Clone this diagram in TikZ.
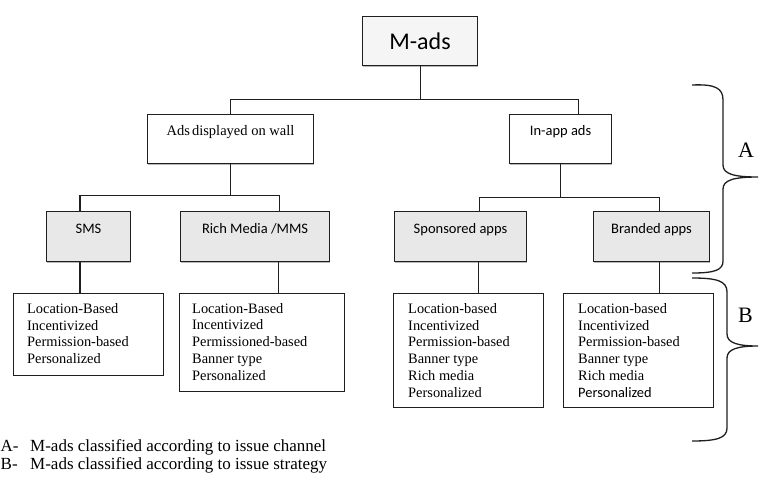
\documentclass[tikz,border=0pt]{standalone}
\usepackage{fontspec}
\setmainfont{Liberation Serif}
\newfontfamily\calibrifont{Carlito}
\usetikzlibrary{shadows}
\begin{document}
\begin{tikzpicture}[x=1pt,y=-1pt,
  ln/.style={line width=1.1pt, draw=black!88},
  conn/.style={line width=1.1pt, draw=black!88},
  boxbase/.style={ln, rectangle, inner sep=0pt, anchor=north west},
  shad/.style={drop shadow={shadow xshift=0.8pt, shadow yshift=-1.8pt, fill=black!28, opacity=1}},
  topbox/.style={boxbase, shad, fill=black!4, minimum height=49pt},
  midbox/.style={boxbase, shad, fill=white, minimum height=49pt},
  lowbox/.style={boxbase, shad, fill=black!9, minimum height=50pt},
  listbox/.style={boxbase, fill=white},
  sanshead/.style={anchor=base, inner sep=0pt, font=\calibrifont\fontsize{14.5}{17}\selectfont},
  serifhead/.style={anchor=base, inner sep=0pt, font=\fontsize{14.5}{17}\selectfont},
  listtext/.style={anchor=north west, inner sep=0pt, align=left, font=\fontsize{14.4}{16.8}\selectfont},
  legtext/.style={anchor=base west, inner sep=0pt, font=\fontsize{17}{19}\selectfont},
  bracelabel/.style={anchor=base west, inner sep=0pt, font=\fontsize{22}{24}\selectfont},
  bracepath/.style={line width=1.3pt, draw=black!88}
]
\clip (0,0) rectangle (760,480);
\fill[white] (0,0) rectangle (760,480);

% level 1
\node[topbox, minimum width=115pt] (mads) at (362,16) {\calibrifont\fontsize{24}{28}\selectfont M-ads};

% level 2
\node[midbox, minimum width=166pt] (ads) at (147,114) {};
\node[serifhead] (adst) at ([yshift=-21pt]ads.north) {Ads\hspace{2pt}displayed on wall};
\node[midbox, minimum width=102pt] (inapp) at (509,114) {};
\node[sanshead] (inappt) at ([yshift=-21pt]inapp.north) {In-app ads};

% level 3
\node[lowbox, minimum width=84pt] (sms) at (46,211) {};
\node[sanshead] (smst) at ([yshift=-22pt]sms.north) {SMS};
\node[lowbox, minimum width=149pt] (rich) at (180,211) {};
\node[sanshead] (richt) at ([yshift=-22pt]rich.north) {Rich Media /MMS};
\node[lowbox, minimum width=132pt] (spons) at (394,211) {};
\node[sanshead] (sponst) at ([yshift=-22pt]spons.north) {Sponsored apps};
\node[lowbox, minimum width=116pt] (brand) at (593,211) {};
\node[sanshead] (brandt) at ([yshift=-22pt]brand.north) {Branded apps};

% level 4
\node[listbox, minimum width=150pt, minimum height=82pt] (l1) at (13,293) {};
\node[listtext] (l1t) at ([xshift=14pt,yshift=-10pt]l1.north west)
  {Location-Based\\Incentivized\\Permission-based\\Personalized};
\node[listbox, minimum width=165pt, minimum height=98pt] (l2) at (179,293) {};
\node[listtext] (l2t) at ([xshift=13pt,yshift=-10pt]l2.north west)
  {Location-Based\\Incentivized\\Permissioned-based\\Banner type\\Personalized};
\node[listbox, minimum width=150pt, minimum height=114pt] (l3) at (393,293) {};
\node[listtext] (l3t) at ([xshift=15pt,yshift=-10pt]l3.north west)
  {Location-based\\Incentivized\\Permission-based\\Banner type\\Rich media\\Personalized};
\node[listbox, minimum width=150pt, minimum height=114pt] (l4) at (563,293) {};
\node[listtext] (l4t) at ([xshift=15pt,yshift=-10pt]l4.north west)
  {Location-based\\Incentivized\\Permission-based\\Banner type\\Rich media\\{\calibrifont Personalized}};

% connectors level 1 -> 2
\path (mads.south) ++(0,33) coordinate (h1);
\draw[conn] (mads.south) -- (h1);
\draw[conn] (ads.north) |- (h1);
\draw[conn] ([xshift=-34pt]inapp.north east) |- (h1);

% connectors level 2 -> 3
\path (ads.south) ++(0,31) coordinate (h2);
\draw[conn] (ads.south) -- (h2);
\draw[conn] ([xshift=34pt]sms.north west) |- (h2);
\draw[conn] ([xshift=-51pt]rich.north east) |- (h2);
\path (inapp.south) ++(0,33) coordinate (h3);
\draw[conn] (inapp.south) -- (h3);
\draw[conn] ([xshift=-48pt]spons.north east) |- (h3);
\draw[conn] ([xshift=-51pt]brand.north east) |- (h3);

% connectors level 3 -> 4
\draw[conn] ([xshift=34pt]sms.south west) -- ([xshift=34pt]sms.south west |- l1.north);
\draw[conn] ([xshift=-52pt]rich.south east) -- ([xshift=-52pt]rich.south east |- l2.north);
\draw[conn] ([xshift=-49pt]spons.south east) -- ([xshift=-49pt]spons.south east |- l3.north);
\draw[conn] ([xshift=-51pt]brand.south east) -- ([xshift=-51pt]brand.south east |- l4.north);

% braces
\draw[bracepath] (692,85) .. controls (715,84) and (723,88) .. (723,100) -- (723,165)
  .. controls (723,174) and (734,177) .. (758,177)
  .. controls (734,177) and (723,180) .. (723,189) -- (723,261)
  .. controls (723,270) and (715,273) .. (692,273);
\draw[bracepath] (692,278) .. controls (717,278) and (727,281) .. (727,292) -- (727,334)
  .. controls (727,343) and (738,346) .. (758,346)
  .. controls (738,346) and (727,349) .. (727,358) -- (727,428)
  .. controls (727,438) and (717,441) .. (692,441);
\node[bracelabel] (labA) at (738,157) {A};
\node[bracelabel] (labB) at (738,322) {B};

% legend
\node[legtext] (legA) at (0.5,451) {A-};
\node[legtext] (legAt) at (30,451) {M-ads classified according to issue channel};
\node[legtext] (legB) at (0.5,469) {B-};
\node[legtext] (legBt) at (30,469) {M-ads classified according to issue strategy};
\end{tikzpicture}
\end{document}
